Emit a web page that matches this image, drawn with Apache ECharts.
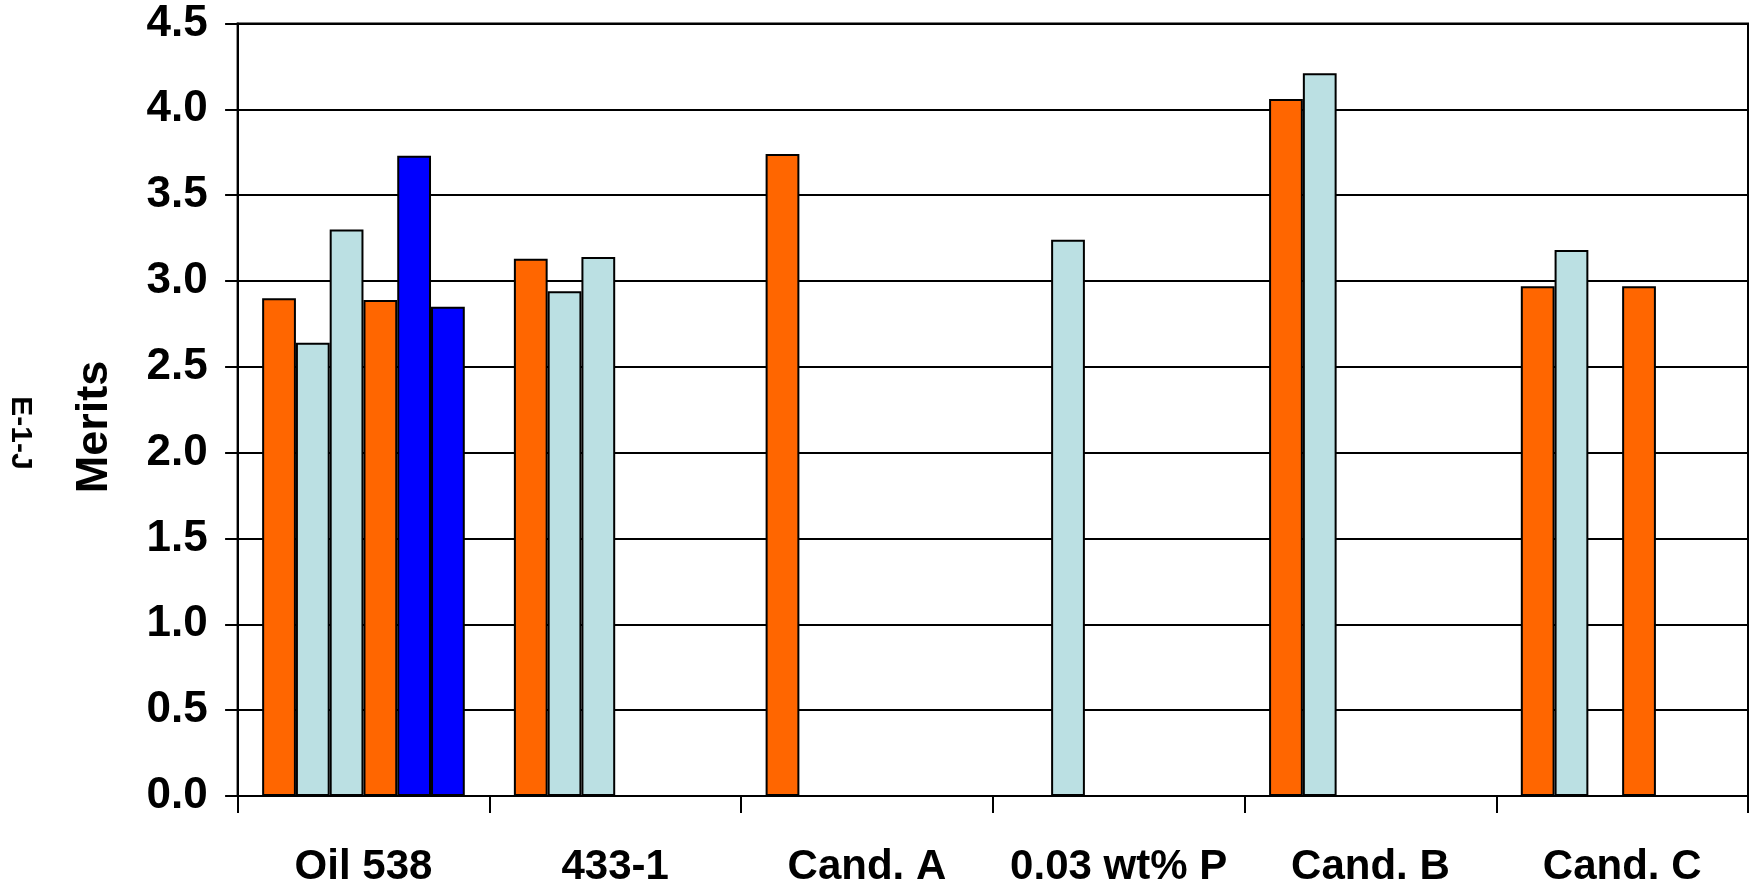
<!DOCTYPE html>
<html>
<head>
<meta charset="utf-8">
<script src="https://cdn.jsdelivr.net/npm/echarts@6/dist/echarts.min.js"></script>
<style>
html,body{margin:0;padding:0;background:#fff;}
#chart{width:1749px;height:890px;}
</style>
</head>
<body>
<div id="chart"></div>
<script>
var categories = ['Oil 538', '433-1', 'Cand. A', '0.03 wt% P', 'Cand. B', 'Cand. C'];
var yTicks = [0, 0.5, 1.0, 1.5, 2.0, 2.5, 3.0, 3.5, 4.0, 4.5];
var series1 = [2.90, 3.13, 3.74, null, 4.06, 2.97];
var series2 = [2.64, 2.94, null, 3.24, 4.21, 3.18];
var series3 = [3.30, 3.14, null, null, null, null];
var series4 = [2.89, null, null, null, null, 2.97];
var series5 = [3.73, null, null, null, null, null];
var series6 = [2.85, null, null, null, null, null];
var seriesColors = ['#FF6600', '#BBE0E3', '#BBE0E3', '#FF6600', '#0000FF', '#0000FF'];
var yTitle = 'Merits';
var sideNote = 'E-1-J';

var fontFam = "'Liberation Sans', Arial, sans-serif";

var allSeries = [series1, series2, series3, series4, series5, series6];
var chart = echarts.init(document.getElementById('chart'), null, {renderer: 'canvas'});
var option = {
  backgroundColor: '#ffffff',
  animation: false,
  grid: {
    left: 237.6, right: 1, top: 23.5, bottom: 94,
    show: true, borderColor: '#000', borderWidth: 2, backgroundColor: 'transparent'
  },
  xAxis: {
    type: 'category',
    data: categories,
    axisLine: {show: true, lineStyle: {color: '#000', width: 2}},
    axisTick: {show: true, length: 17, lineStyle: {color: '#000', width: 2}},
    axisLabel: {
      interval: 0, margin: 50, color: '#000', fontFamily: fontFam, fontWeight: 'bold', fontSize: 42
    },
    splitLine: {show: false}
  },
  yAxis: {
    type: 'value',
    min: 0, max: 4.5, interval: 0.5,
    axisLine: {show: true, lineStyle: {color: '#000', width: 2}},
    axisTick: {show: true, length: 12.5, lineStyle: {color: '#000', width: 2}},
    axisLabel: {
      margin: 30, color: '#000', fontFamily: fontFam, fontWeight: 'bold', fontSize: 44,
      formatter: function (v) { return v.toFixed(1); }
    },
    splitLine: {show: true, lineStyle: {color: '#000', width: 2}}
  },
  graphic: [
    {
      type: 'text', x: 95, y: 427, rotation: Math.PI / 2,
      style: {text: yTitle, fill: '#000', font: 'bold 45px ' + fontFam, align: 'center', verticalAlign: 'middle'}
    },
    {
      type: 'text', x: 20, y: 433, rotation: -Math.PI / 2,
      style: {text: sideNote, fill: '#000', font: 'bold 30px ' + fontFam, align: 'center', verticalAlign: 'middle'}
    }
  ],
  series: allSeries.map(function (d, i) {
    return {
      type: 'bar',
      name: 'Series ' + (i + 1),
      data: d,
      barGap: '0%',
      barCategoryGap: '19.5%',
      itemStyle: {color: seriesColors[i], borderColor: '#000', borderWidth: 2}
    };
  })
};
chart.setOption(option);
</script>
</body>
</html>
